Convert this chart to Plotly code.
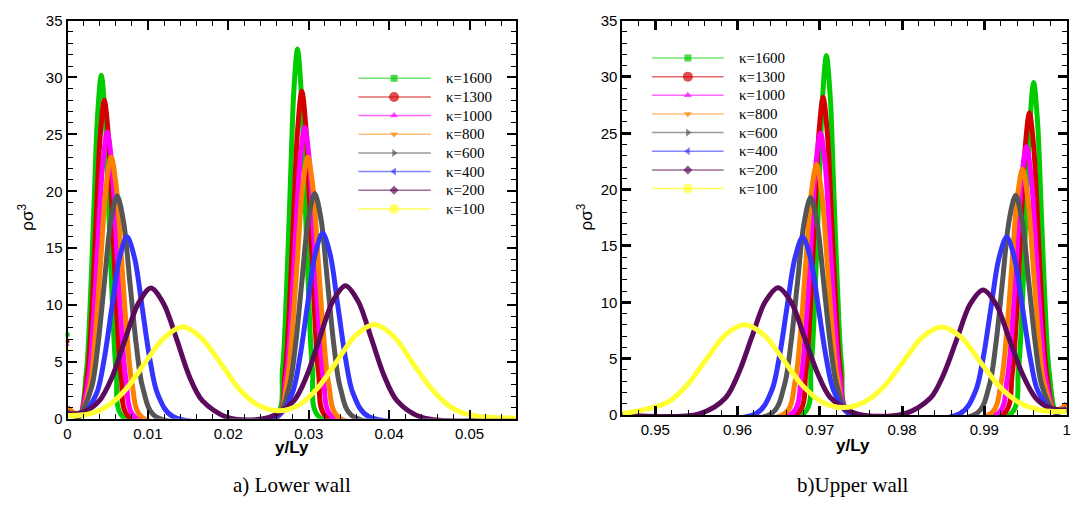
import plotly.graph_objects as go

# ---------------- series styling ----------------
KAPPA = ["1600", "1300", "1000", "800", "600", "400", "200", "100"]
COLORS = ["#00cc00", "#d40000", "#ff00ff", "#ff8000", "#555555", "#3434ff", "#5c0a5c", "#ffff33"]
LEG_LINE = ["rgba(0,204,0,0.55)", "rgba(212,0,0,0.6)", "rgba(255,0,255,0.6)", "rgba(255,128,0,0.5)",
            "rgba(85,85,85,0.6)", "rgba(52,52,255,0.6)", "rgba(92,10,92,0.6)", "rgba(255,255,51,0.8)"]
SYMBOLS = ["square", "circle", "triangle-up", "triangle-down", "triangle-right", "triangle-left", "diamond", "circle"]
MSIZE = [7, 10, 7, 7, 7, 7, 7, 10]

# ---------------- data: lower wall (panel a) ----------------
L1600_X = [0, 0.00141, 0.00234, 0.0028, 0.00327, 0.00374, 0.0042, 0.00467, 0.00513, 0.0056, 0.00606, 0.00699,
           0.02581, 0.02674, 0.0272, 0.02767, 0.02814, 0.0286, 0.02907, 0.02953, 0.03, 0.03046, 0.03139, 0.0558]
L1600_Y = [0.7, 0.1, 4.1, 9.8, 18.3, 26.7, 30.2, 26.7, 18.3, 9.8, 4.1, 0.1,
           0.1, 4.4, 10.6, 19.7, 28.7, 32.5, 28.7, 19.7, 10.6, 4.4, 0.1, 0]
L1300_X = [0, 0.00142, 0.00247, 0.003, 0.00352, 0.00405, 0.00457, 0.0051, 0.00562, 0.00615, 0.00667, 0.00772,
           0.02599, 0.02704, 0.02757, 0.02809, 0.02862, 0.02914, 0.02967, 0.03019, 0.03072, 0.03124, 0.03229, 0.0558]
L1300_Y = [1.0, 0.2, 3.8, 9.1, 17.0, 24.7, 28.0, 24.7, 17.0, 9.1, 3.8, 0.1,
           0.1, 3.9, 9.4, 17.5, 25.4, 28.8, 25.4, 17.5, 9.4, 3.9, 0.1, 0]
L1000_X = [0, 0.00143, 0.0026, 0.00319, 0.00377, 0.00436, 0.00494, 0.00553, 0.00611, 0.0067, 0.00728, 0.00845,
           0.02599, 0.02716, 0.02775, 0.02833, 0.02892, 0.0295, 0.03009, 0.03067, 0.03126, 0.03184, 0.03301, 0.0558]
L1000_Y = [0.8, 0.3, 3.4, 8.2, 15.3, 22.2, 25.2, 22.2, 15.3, 8.2, 3.4, 0.1,
           0.1, 3.5, 8.3, 15.5, 22.6, 25.6, 22.6, 15.5, 8.3, 3.5, 0.1, 0]
L800_X = [0, 0.00153, 0.00283, 0.00348, 0.00413, 0.00478, 0.00543, 0.00608, 0.00673, 0.00738, 0.00803, 0.00933,
          0.02598, 0.02728, 0.02793, 0.02858, 0.02923, 0.02988, 0.03053, 0.03118, 0.03183, 0.03248, 0.03378, 0.0558]
L800_Y = [0.9, 0.4, 3.1, 7.5, 13.9, 20.3, 23.0, 20.3, 13.9, 7.5, 3.1, 0.1,
          0.1, 3.1, 7.5, 13.9, 20.3, 23.0, 20.3, 13.9, 7.5, 3.1, 0.1, 0]
L600_X = [0, 0.00137, 0.00297, 0.00377, 0.00457, 0.00537, 0.00617, 0.00697, 0.00777, 0.00857, 0.00937, 0.01097,
          0.02594, 0.02754, 0.02834, 0.02914, 0.02994, 0.03074, 0.03154, 0.03234, 0.03314, 0.03394, 0.03554, 0.0558]
L600_Y = [0.6, 0.3, 2.7, 6.4, 11.9, 17.3, 19.6, 17.3, 11.9, 6.4, 2.7, 0.2,
          0.2, 2.7, 6.4, 12.0, 17.5, 19.8, 17.5, 12.0, 6.4, 2.7, 0.2, 0]
L400_X = [0, 0.0017, 0.0036, 0.00455, 0.0055, 0.00645, 0.0074, 0.00835, 0.0093, 0.01025, 0.0112, 0.0131,
          0.02603, 0.02793, 0.02888, 0.02983, 0.03078, 0.03173, 0.03268, 0.03363, 0.03458, 0.03553, 0.03743, 0.0558]
L400_Y = [0.5, 0.3, 2.2, 5.2, 9.7, 14.1, 16.0, 14.1, 9.7, 5.2, 2.2, 0.2,
          0.2, 2.2, 5.3, 9.9, 14.4, 16.3, 14.4, 9.9, 5.3, 2.2, 0.2, 0]
L200_X = [0, 0.002, 0.00397, 0.00557, 0.00717, 0.00877, 0.01037, 0.01197, 0.01357, 0.01517, 0.01677, 0.01997,
          0.02497, 0.02817, 0.02977, 0.03137, 0.03297, 0.03457, 0.03617, 0.03777, 0.03937, 0.04097, 0.04417, 0.0558]
L200_Y = [0.4, 0.6, 1.6, 3.7, 7.0, 10.1, 11.5, 10.1, 7.0, 3.7, 1.6, 0.1,
          0.1, 1.6, 3.8, 7.1, 10.3, 11.7, 10.3, 7.1, 3.8, 1.6, 0.1, 0]
L100_X = [0, 0.0025, 0.00492, 0.00727, 0.00962, 0.01197, 0.01432, 0.01667, 0.01902, 0.02137, 0.02372, 0.02624,
          0.02875, 0.0311, 0.03345, 0.0358, 0.03815, 0.0405, 0.04285, 0.0452, 0.04755, 0.05, 0.0558]
L100_Y = [0.3, 0.4, 1.1, 2.6, 4.9, 7.1, 8.1, 7.1, 4.9, 2.6, 1.2, 0.7,
          1.2, 2.7, 5.0, 7.3, 8.3, 7.3, 5.0, 2.7, 1.1, 0.35, 0.05]

WALL_MARK_Y = [7.4, 6.8, 6.5, 6.1]

# ---------------- data: upper wall (panel b) ----------------
U1600_X = [0.946, 0.96801, 0.96894, 0.9694, 0.96987, 0.97034, 0.9708, 0.97127, 0.97173, 0.9722, 0.97266, 0.97359,
           0.99321, 0.99414, 0.9946, 0.99507, 0.99554, 0.996, 0.99647, 0.99693, 0.9974, 0.99786, 0.99879, 1.0]
U1600_Y = [0, 0.1, 4.3, 10.4, 19.3, 28.2, 31.9, 28.2, 19.3, 10.4, 4.3, 0.1,
           0.1, 4.0, 9.6, 17.9, 26.0, 29.5, 26.0, 17.9, 9.6, 4.0, 0.2, 0.7]
U1300_X = [0.946, 0.96725, 0.9683, 0.96883, 0.96935, 0.96988, 0.9704, 0.97093, 0.97145, 0.97198, 0.9725, 0.97355,
           0.99233, 0.99338, 0.99391, 0.99443, 0.99496, 0.99548, 0.99601, 0.99653, 0.99706, 0.99758, 0.99863, 1.0]
U1300_Y = [0, 0.1, 3.8, 9.2, 17.1, 24.9, 28.2, 24.9, 17.1, 9.2, 3.8, 0.1,
           0.1, 3.6, 8.7, 16.3, 23.7, 26.8, 23.7, 16.3, 8.7, 3.6, 0.2, 1.0]
U1000_X = [0.946, 0.96657, 0.96774, 0.96833, 0.96891, 0.9695, 0.97008, 0.97067, 0.97125, 0.97184, 0.97242, 0.97359,
           0.99161, 0.99278, 0.99337, 0.99395, 0.99454, 0.99512, 0.99571, 0.99629, 0.99688, 0.99746, 0.99863, 1.0]
U1000_Y = [0, 0.1, 3.4, 8.1, 15.2, 22.1, 25.0, 22.1, 15.2, 8.1, 3.4, 0.1,
           0.1, 3.2, 7.7, 14.4, 21.0, 23.8, 21.0, 14.4, 7.7, 3.2, 0.3, 0.8]
U800_X = [0.946, 0.9657, 0.967, 0.96765, 0.9683, 0.96895, 0.9696, 0.97025, 0.9709, 0.97155, 0.9722, 0.9735,
          0.99074, 0.99204, 0.99269, 0.99334, 0.99399, 0.99464, 0.99529, 0.99594, 0.99659, 0.99724, 0.99854, 1.0]
U800_Y = [0, 0.1, 3.0, 7.2, 13.5, 19.6, 22.2, 19.6, 13.5, 7.2, 3.0, 0.1,
          0.1, 2.9, 7.1, 13.2, 19.2, 21.8, 19.2, 13.2, 7.1, 2.9, 0.4, 0.9]
U600_X = [0.946, 0.96408, 0.96568, 0.96648, 0.96728, 0.96808, 0.96888, 0.96968, 0.97048, 0.97128, 0.97208, 0.97368,
          0.989, 0.9906, 0.9914, 0.9922, 0.993, 0.9938, 0.9946, 0.9954, 0.9962, 0.997, 0.9986, 1.0]
U600_Y = [0, 0.1, 2.6, 6.3, 11.7, 17.0, 19.3, 17.0, 11.7, 6.3, 2.6, 0.1,
          0.1, 2.6, 6.3, 11.8, 17.2, 19.5, 17.2, 11.8, 6.3, 2.6, 0.3, 0.6]
U400_X = [0.946, 0.96222, 0.96412, 0.96507, 0.96602, 0.96697, 0.96792, 0.96887, 0.96982, 0.97077, 0.97172, 0.97362,
          0.98702, 0.98892, 0.98987, 0.99082, 0.99177, 0.99272, 0.99367, 0.99462, 0.99557, 0.99652, 0.99842, 1.0]
U400_Y = [0, 0.1, 2.1, 5.1, 9.6, 13.9, 15.8, 13.9, 9.6, 5.1, 2.1, 0.1,
          0.1, 2.1, 5.1, 9.6, 13.9, 15.8, 13.9, 9.6, 5.1, 2.1, 0.3, 0.5]
U200_X = [0.946, 0.95533, 0.95853, 0.96013, 0.96173, 0.96333, 0.96493, 0.96653, 0.96813, 0.96973, 0.97133, 0.97453,
          0.98025, 0.98345, 0.98505, 0.98665, 0.98825, 0.98985, 0.99145, 0.99305, 0.99465, 0.99625, 0.998, 1.0]
U200_Y = [0, 0.1, 1.5, 3.7, 6.9, 10.0, 11.3, 10.0, 6.9, 3.7, 1.5, 0.1,
          0.1, 1.5, 3.6, 6.7, 9.8, 11.1, 9.8, 6.7, 3.6, 1.5, 0.6, 0.4]
U100_X = [0.946, 0.95146, 0.95381, 0.95616, 0.95851, 0.96086, 0.96321, 0.96556, 0.96791, 0.97026, 0.97284,
          0.97542, 0.97777, 0.98012, 0.98247, 0.98482, 0.98717, 0.98952, 0.99187, 0.99422, 0.997, 1.0]
U100_Y = [0.1, 1.1, 2.6, 4.9, 7.1, 8.0, 7.1, 4.9, 2.6, 1.15, 0.65,
          1.15, 2.5, 4.7, 6.9, 7.8, 6.9, 4.7, 2.5, 1.1, 0.4, 0.3]

LOWER = [(L1600_X, L1600_Y), (L1300_X, L1300_Y), (L1000_X, L1000_Y), (L800_X, L800_Y),
         (L600_X, L600_Y), (L400_X, L400_Y), (L200_X, L200_Y), (L100_X, L100_Y)]
UPPER = [(U1600_X, U1600_Y), (U1300_X, U1300_Y), (U1000_X, U1000_Y), (U800_X, U800_Y),
         (U600_X, U600_Y), (U400_X, U400_Y), (U200_X, U200_Y), (U100_X, U100_Y)]

W, H = 1073, 508

fig = go.Figure()

LW = 5
for i, (xs, ys) in enumerate(LOWER):
    fig.add_trace(go.Scatter(x=xs, y=ys, mode="lines", name="κ=" + KAPPA[i],
                             line=dict(color=COLORS[i], width=LW, shape="spline", smoothing=0.9),
                             xaxis="x", yaxis="y", showlegend=False, hoverinfo="skip"))
for i, (xs, ys) in enumerate(UPPER):
    fig.add_trace(go.Scatter(x=xs, y=ys, mode="lines", name="κ=" + KAPPA[i],
                             line=dict(color=COLORS[i], width=LW, shape="spline", smoothing=0.9),
                             xaxis="x2", yaxis="y2", showlegend=False, hoverinfo="skip"))

# tiny stray symbols at the wall in panel a
fig.add_trace(go.Scatter(x=[0, 0, 0, 0], y=WALL_MARK_Y, mode="markers",
                         marker=dict(color=[COLORS[0], COLORS[1], COLORS[2], COLORS[7]],
                                     symbol=["square", "circle", "triangle-up", "circle"], size=4),
                         cliponaxis=False, xaxis="x", yaxis="y", showlegend=False, hoverinfo="skip"))

# ---- hand-built legends (Tecplot style: thin line with symbol in the middle) on a page-pixel axis ----
LEG_BOXES = [  # (line x0, symbol x, line x1, text x, first row y, row step) in page pixels
    (357, 393, 430, 443, 71.7, 19.3),
    (653, 689, 725, 738, 50.7, 19.3),
]
ann = []
LEGFONT = dict(family="Liberation Serif, Times New Roman", size=15, color="black")
for (x0, xm, x1, xt, y0, dy) in LEG_BOXES:
    for i, k in enumerate(KAPPA):
        yy = y0 + i * dy
        fig.add_trace(go.Scatter(x=[x0, xm, x1], y=[yy, yy, yy], mode="lines+markers",
                                 line=dict(color=LEG_LINE[i], width=1.5),
                                 marker=dict(color=COLORS[i], symbol=SYMBOLS[i], size=[0, MSIZE[i], 0],
                                             line=dict(width=0)),
                                 xaxis="x3", yaxis="y3", showlegend=False, hoverinfo="skip", cliponaxis=False))
        ann.append(dict(text="κ=" + k, x=xt, y=yy, xref="x3", yref="y3", showarrow=False,
                        font=LEGFONT, xanchor="left", yanchor="middle"))

TICKFONT = dict(family="Liberation Sans, Arial", size=15, color="black")


def xaxis_cfg(domain, rng, tw, anchor):
    return dict(domain=domain, range=rng, dtick=0.01, tick0=0, anchor=anchor, showline=True, linecolor="black",
                linewidth=2, mirror="ticks", ticks="inside", ticklen=9, tickwidth=tw, tickcolor="black",
                minor=dict(ticks="inside", ticklen=5, tickwidth=1, tickcolor="black", dtick=0.002),
                showgrid=False, zeroline=False, tickfont=TICKFONT, fixedrange=True, ticklabeloverflow="allow")


def yaxis_cfg(domain, anchor, tw):
    return dict(domain=domain, range=[0, 35], dtick=5, anchor=anchor, showline=True, linecolor="black", linewidth=2,
                mirror="ticks", ticks="inside", ticklen=9, tickwidth=tw, tickcolor="black",
                minor=dict(ticks="inside", ticklen=5, tickwidth=1, tickcolor="black", dtick=1),
                showgrid=False, zeroline=False, tickfont=TICKFONT, fixedrange=True)


fig.update_layout(
    width=W, height=H, margin=dict(l=0, r=0, t=0, b=0),
    paper_bgcolor="white", plot_bgcolor="rgba(0,0,0,0)",
    xaxis=xaxis_cfg([64 / W, 516 / W], [0, 0.0558], 1.5, "y"),
    yaxis=yaxis_cfg([1 - 424 / H, 1 - 12 / H], "x", 1.5),
    xaxis2=xaxis_cfg([623 / W, 1071 / W], [0.946, 1.00005], 2.5, "y2"),
    yaxis2=yaxis_cfg([1 - 420 / H, 1 - 12 / H], "x2", 2.5),
    xaxis3=dict(domain=[0, 1], range=[0, W], visible=False, fixedrange=True, anchor="y3"),
    yaxis3=dict(domain=[0, 1], range=[H, 0], visible=False, fixedrange=True, anchor="x3"),
    showlegend=False,
)

AXT = dict(family="Liberation Sans, Arial", size=17, color="black")
ann.append(dict(text="<b>y/Ly</b>", x=290 / W, y=1 - 454 / H, xref="paper", yref="paper", showarrow=False,
                font=AXT, xanchor="center", yanchor="middle"))
ann.append(dict(text="<b>y/Ly</b>", x=855 / W, y=1 - 452 / H, xref="paper", yref="paper", showarrow=False,
                font=AXT, xanchor="center", yanchor="middle"))
ann.append(dict(text="ρσ<sup>3</sup>", x=22 / W, y=1 - 215 / H, xref="paper", yref="paper", showarrow=False,
                font=AXT, textangle=-90, xanchor="center", yanchor="middle"))
ann.append(dict(text="ρσ<sup>3</sup>", x=585 / W, y=1 - 215 / H, xref="paper", yref="paper", showarrow=False,
                font=AXT, textangle=-90, xanchor="center", yanchor="middle"))
CAP = dict(family="Liberation Serif, Times New Roman", size=21, color="black")
ann.append(dict(text="a) Lower wall", x=290 / W, y=1 - 492 / H, xref="paper", yref="paper", showarrow=False,
                font=CAP, xanchor="center", yanchor="middle"))
ann.append(dict(text="b)Upper wall", x=855 / W, y=1 - 492 / H, xref="paper", yref="paper", showarrow=False,
                font=CAP, xanchor="center", yanchor="middle"))
fig.update_layout(annotations=ann)

fig.write_html("out.html")
